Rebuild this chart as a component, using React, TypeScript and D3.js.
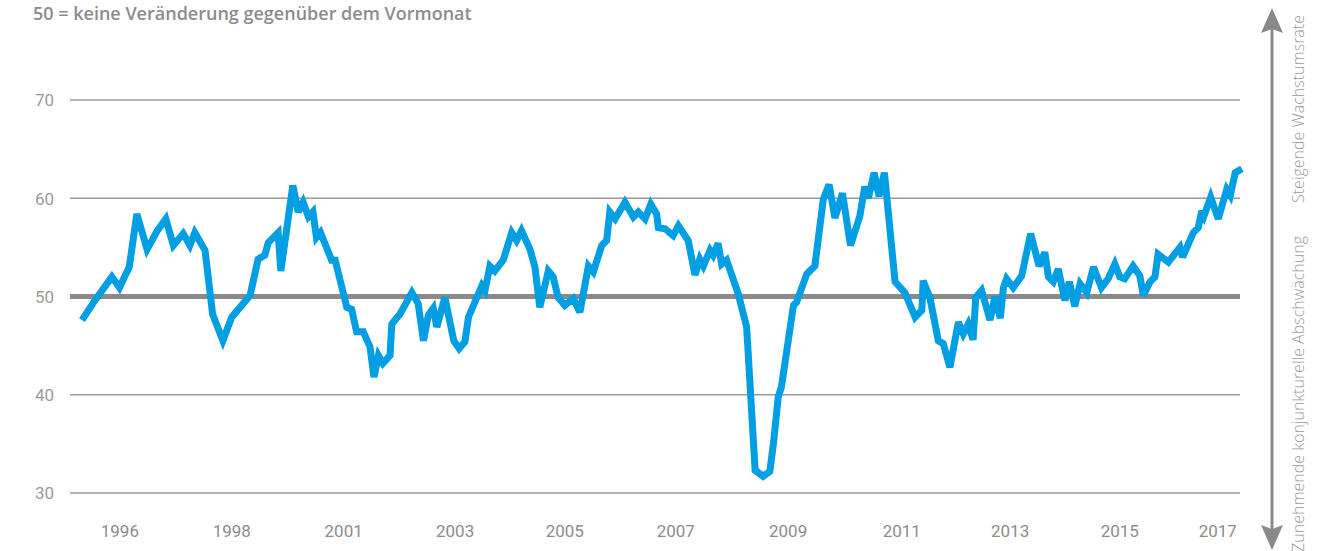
import React from "react";
import * as d3 from "d3";

// Month offset (0 = first month of series)
const monthIdx = [
  0, 2.9, 6.7, 8.4, 10.6, 12.3, 14.6, 16.9, 18.8, 20.5, 22.7, 24.2, 25.3, 27.6, 29.3, 31.6, 33.6, 36.2, 37.7, 39.5,
  41.0, 41.8, 44.0, 44.6, 47.3, 48.5, 49.6, 50.8, 51.8, 52.6, 53.5, 56.0, 56.8, 59.4, 60.5, 61.6, 63.1, 64.6, 65.5, 66.5,
  67.5, 69.1, 69.5, 71.3, 74.0, 75.4, 76.6, 77.7, 78.8, 79.6, 81.4, 83.4, 84.6, 85.9, 86.7, 89.7, 90.4, 91.5, 92.6, 94.5,
  96.4, 97.5, 98.6, 100.5, 101.6, 102.7, 104.6, 105.7, 106.8, 108.3, 110.2, 111.7, 113.6, 114.7, 116.6, 117.7, 118.4, 119.6, 121.8, 123.7,
  124.8, 126.3, 127.6, 128.9, 129.3, 130.8, 132.6, 133.8, 136.0, 137.5, 138.6, 139.4, 140.9, 141.6, 142.7, 143.5, 144.6, 147.2, 149.1, 151.0,
  152.8, 154.3, 155.1, 156.2, 156.9, 159.6, 160.3, 162.6, 164.4, 166.3, 167.6, 168.9, 170.6, 172.4, 174.5, 175.6, 176.4, 177.7, 178.8, 180.0,
  182.4, 184.6, 186.9, 188.4, 188.7, 190.2, 192.1, 193.2, 194.7, 196.6, 197.7, 198.8, 199.9, 200.5, 201.8, 203.7, 204.8, 206.0, 206.7, 207.4,
  208.9, 210.8, 212.8, 214.7, 216.0, 216.8, 217.9, 219.0, 220.5, 221.5, 222.7, 223.9, 225.4, 226.9, 228.7, 230.2, 231.7, 232.8, 233.9, 235.8,
  237.3, 238.1, 239.6, 240.7, 241.4, 243.7, 246.3, 246.9, 249.3, 250.4, 251.2, 251.7, 253.2, 254.9, 256.8, 257.6, 258.7, 260.2,
];

const pmiValues = [
  47.6, 49.6, 52.0, 50.9, 53.0, 58.4, 54.8, 56.7, 57.9, 55.2, 56.4, 55.2, 56.5, 54.7, 48.2, 45.5, 47.9, 49.3, 50.1, 53.8,
  54.2, 55.5, 56.5, 52.6, 61.3, 58.6, 59.6, 58.1, 58.6, 56.0, 56.5, 53.7, 53.7, 48.9, 48.7, 46.4, 46.4, 44.9, 41.8, 44.0,
  43.2, 44.0, 47.2, 48.2, 50.4, 49.3, 45.5, 48.1, 48.8, 46.9, 49.9, 45.5, 44.7, 45.4, 47.9, 51.1, 50.6, 53.1, 52.6, 53.7,
  56.5, 55.7, 56.7, 54.8, 53.0, 48.9, 52.6, 52.0, 49.9, 49.1, 49.8, 48.4, 53.1, 52.5, 55.2, 55.7, 58.6, 57.9, 59.6, 58.1,
  58.6, 57.9, 59.4, 58.4, 57.0, 56.9, 56.2, 57.2, 55.7, 52.2, 53.8, 53.1, 54.7, 54.2, 55.4, 53.3, 53.7, 50.3, 46.9, 32.3,
  31.7, 32.2, 35.0, 39.8, 40.8, 49.1, 49.4, 52.3, 53.1, 59.9, 61.4, 58.0, 60.5, 55.2, 58.2, 61.2, 60.0, 62.6, 60.2, 62.6,
  51.5, 50.4, 47.9, 48.6, 51.6, 49.9, 45.5, 45.2, 42.8, 47.4, 46.2, 47.2, 45.6, 49.9, 50.6, 47.6, 50.0, 47.8, 50.9, 51.8,
  50.9, 52.1, 56.4, 53.1, 54.5, 52.0, 51.5, 52.8, 49.6, 51.5, 49.0, 51.3, 50.4, 53.0, 50.9, 51.8, 53.3, 52.0, 51.8, 53.1,
  52.1, 50.1, 51.5, 52.0, 54.3, 53.5, 55.0, 54.0, 56.5, 57.0, 58.7, 58.2, 60.1, 57.9, 60.9, 60.3, 62.6, 63.0,
];

const yTicks = [30, 40, 50, 60, 70];
const xTickLabels = ["1996", "1998", "2001", "2003", "2005", "2007", "2009", "2011", "2013", "2015", "2017"];
const xTickPos = [8.5, 33.6, 58.7, 83.7, 108.3, 133.2, 158.4, 183.9, 208.2, 232.8, 254.8];

const title = "50 = keine Veränderung gegenüber dem Vormonat";
const upLabel = "Steigende Wachstumsrate";
const downLabel = "Zunehmende konjunkturelle Abschwächung";

export default function App() {
  const W = 1332;
  const H = 551;
  const x = d3.scaleLinear().domain([0, 260]).range([82, 1241]);
  const y = d3.scaleLinear().domain([30, 70]).range([493, 100]);
  const pts: [number, number][] = monthIdx.map((m, i) => [m, pmiValues[i]]);
  const line = d3
    .line<[number, number]>()
    .x((d) => x(d[0]))
    .y((d) => y(d[1]));
  const grey = "#8c8c8c";
  const labelFont = "'Liberation Sans Narrow', 'Roboto', sans-serif";
  const ax = 1272;
  return (
    <svg
      width={W}
      height={H}
      style={{ position: "absolute", left: 0, top: 0, background: "#fff" }}
    >
      <text
        x={33}
        y={20}
        fill={grey}
        fontFamily="'Open Sans', sans-serif"
        fontWeight={600}
        fontSize={18}
      >
        {title}
      </text>
      {yTicks.map((t) => (
        <g key={t}>
          <line
            x1={70}
            x2={1240}
            y1={y(t)}
            y2={y(t)}
            stroke={t === 50 ? "#8a8a8a" : "#9a9a9a"}
            strokeWidth={t === 50 ? 5 : 1.3}
          />
          <text
            x={35}
            y={y(t) + 2}
            fill="#9a9a9a"
            fontFamily={labelFont}
            fontSize={17}
            dominantBaseline="middle"
          >
            {t}
          </text>
        </g>
      ))}
      {xTickLabels.map((lab, i) => (
        <text
          key={lab}
          x={x(xTickPos[i])}
          y={537}
          textAnchor="middle"
          fill="#8c8c8c"
          fontFamily={labelFont}
          fontSize={17}
        >
          {lab}
        </text>
      ))}
      <path
        d={line(pts) || ""}
        fill="none"
        stroke="#009fe3"
        strokeWidth={7}
        strokeLinejoin="miter"
        strokeMiterlimit={3}
      />
      {/* right double arrow */}
      <line x1={ax} x2={ax} y1={25} y2={530} stroke="#8a8a8a" strokeWidth={3} />
      <path d={`M${ax} 8 L${ax + 11} 33 L${ax} 29 L${ax - 11} 33 Z`} fill="#8a8a8a" />
      <path d={`M${ax} 550 L${ax + 11} 525 L${ax} 529 L${ax - 11} 525 Z`} fill="#8a8a8a" />
      <text
        transform={`translate(1304,15) rotate(-90)`}
        textAnchor="end"
        fill="#9a9a9a"
        fontFamily="'Open Sans', sans-serif"
        fontWeight={300}
        fontSize={16}
      >
        {upLabel}
      </text>
      <text
        transform={`translate(1304,236) rotate(-90)`}
        textAnchor="end"
        fill="#9a9a9a"
        fontFamily="'Open Sans', sans-serif"
        fontWeight={300}
        fontSize={16}
      >
        {downLabel}
      </text>
    </svg>
  );
}
